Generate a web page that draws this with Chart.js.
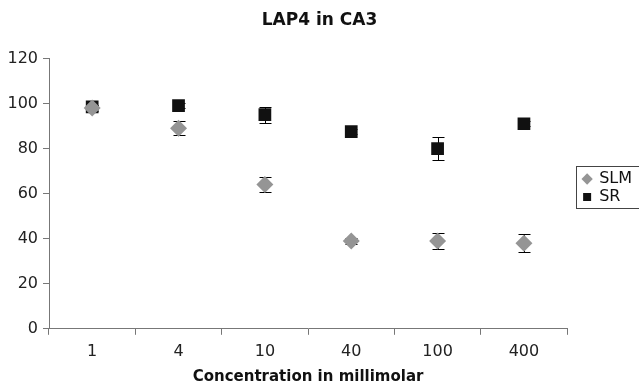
<!DOCTYPE html>
<html>
<head>
<meta charset="utf-8">
<script src="https://cdn.jsdelivr.net/npm/chart.js@4"></script>
<style>
  html, body { margin: 0; padding: 0; background: #fff; }
  #wrap { width: 639px; height: 387px; }
</style>
</head>
<body>
<div id="wrap"><canvas id="myChart"></canvas></div>
<script>
const concentracion = ['1', '4', '10', '40', '100', '400']
const slm = [98, 89, 64, 39, 39, 38]
const slmErr = [1.5, 3, 3.5, 1.5, 3.5, 4]
const sr = [98.5, 99, 95, 87.5, 80, 91]
const srErr = [1, 1, 3.5, 1, 5, 1]
const yTicks = [0, 20, 40, 60, 80, 100, 120]

const fuente = 'DejaVu Sans'

// barras de error detras de los marcadores
const errorBars = {
    id: 'errorBars',
    beforeDatasetsDraw(chart) {
        const c = chart.ctx
        const y = chart.scales.y
        const errs = [slmErr, srErr]
        c.save()
        c.strokeStyle = '#000'
        c.lineWidth = 1
        chart.data.datasets.forEach((ds, i) => {
            chart.getDatasetMeta(i).data.forEach((pt, j) => {
                const v = ds.data[j]
                const top = Math.round(y.getPixelForValue(v + errs[i][j])) + 0.5
                const bot = Math.round(y.getPixelForValue(v - errs[i][j])) + 0.5
                const x = Math.round(pt.x) + 0.5
                c.beginPath()
                c.moveTo(x, top); c.lineTo(x, bot)
                c.moveTo(x - 6, top); c.lineTo(x + 6, top)
                c.moveTo(x - 6, bot); c.lineTo(x + 6, bot)
                c.stroke()
            })
        })
        c.restore()
    }
}

// leyenda un poco separada del area y con marco; titulo centrado en todo el ancho
const legendBox = {
    id: 'legendBox',
    afterLayout(chart) {
        const l = chart.legend
        const dx = chart.chartArea.right + 14 - l.left
        l.left += dx
        l.right += dx
        l.top -= 5
        l.bottom -= 5
        chart.titleBlock.left = 0
        chart.titleBlock.right = chart.width
    },
    afterDraw(chart) {
        const hb = chart.legend.legendHitBoxes
        if (!hb || !hb.length) return
        const c = chart.ctx
        const x0 = Math.round(hb[0].left) - 7
        const y0 = Math.round(hb[0].top) - 5
        const y1 = Math.round(hb[hb.length - 1].top + hb[hb.length - 1].height) + 3
        c.save()
        c.strokeStyle = '#444'
        c.lineWidth = 1
        c.strokeRect(x0 + 0.5, y0 + 0.5, 100, y1 - y0)
        c.restore()
    }
}

const ctx = document.getElementById('myChart')
const myChart = new Chart(ctx, {
    type: 'line',
    data: {
        labels: concentracion,
        datasets: [{
            label: 'SLM',
            data: slm,
            showLine: false,
            pointStyle: 'rectRot',
            pointRadius: 8.5,
            pointHoverRadius: 8.5,
            backgroundColor: '#959595',
            borderColor: '#959595',
            borderWidth: 0
        }, {
            label: 'SR',
            data: sr,
            showLine: false,
            pointStyle: 'rect',
            pointRadius: 9,
            pointHoverRadius: 9,
            backgroundColor: '#111111',
            borderColor: '#111111',
            borderWidth: 0
        }]
    },
    options: {
        responsive: true,
        maintainAspectRatio: false,
        animation: false,
        layout: { padding: { left: 0, right: 11, top: 0, bottom: 1 } },
        plugins: {
            title: {
                display: true,
                text: 'LAP4 in CA3',
                color: '#111',
                font: { family: fuente, size: 17, weight: 'bold' },
                padding: { top: 10, bottom: 28 }
            },
            legend: {
                position: 'right',
                labels: {
                    usePointStyle: true,
                    boxWidth: 8,
                    boxHeight: 8,
                    padding: 2,
                    color: '#111',
                    font: { family: fuente, size: 16 }
                }
            },
            tooltip: { enabled: false }
        },
        scales: {
            x: {
                offset: true,
                grid: { offset: true, drawOnChartArea: false, tickLength: 6, color: '#777' },
                border: { color: '#777' },
                ticks: { color: '#222', font: { family: fuente, size: 16 }, padding: 7 },
                title: {
                    display: true,
                    text: 'Concentration in millimolar',
                    color: '#111',
                    font: { family: fuente, size: 15, weight: 'bold' },
                    padding: { top: 0, bottom: 0 }
                }
            },
            y: {
                min: 0,
                max: 120,
                afterBuildTicks: (s) => { s.ticks = yTicks.map(v => ({ value: v })) },
                afterFit: (s) => { s.width = 49 },
                grid: { drawOnChartArea: false, tickLength: 6, color: '#777' },
                border: { color: '#777' },
                ticks: { color: '#222', font: { family: fuente, size: 16 }, padding: 5 }
            }
        }
    },
    plugins: [errorBars, legendBox]
})
</script>
</body>
</html>
